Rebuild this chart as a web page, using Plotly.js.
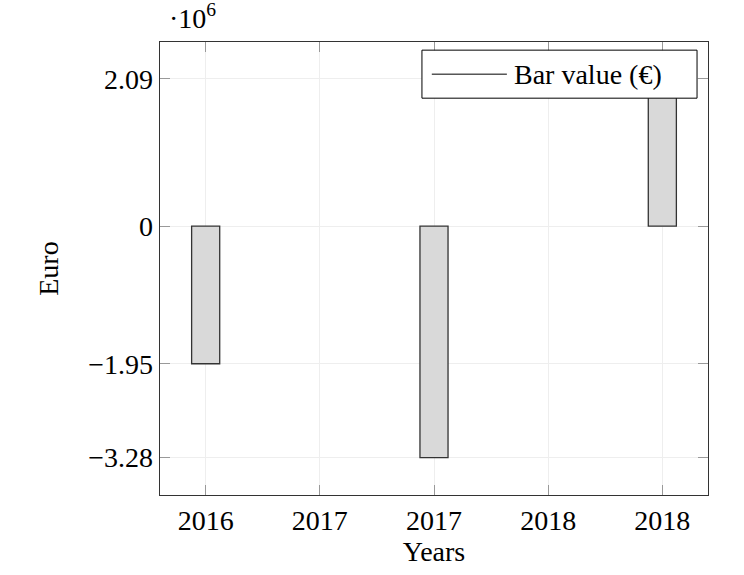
<!DOCTYPE html>
<html>
<head>
<meta charset="utf-8">
<script src="https://cdn.plot.ly/plotly-3.0.1.min.js"></script>
<style>
  html, body { margin: 0; padding: 0; background: #fff; }
  #plot { width: 744px; height: 575px; }
</style>
</head>
<body>
<div id="plot"></div>
<script>
// bar positions (years) and values in euro
const years = [2016, 2017, 2018];
const barValues = [-1.95e6, -3.28e6, 2.09e6];
const seriesName = 'Bar value (\u20ac)';

// x ticks as pgfplots drew them (rounded to whole years)
const xTickVals = [2016, 2016.5, 2017, 2017.5, 2018];
const xTickText = ['2016', '2017', '2017', '2018', '2018'];

// y ticks sit on the bar values, shown in units of 10^6
const yTickVals = [2.09e6, 0, -1.95e6, -3.28e6];
const yTickText = ['2.09', '0', '\u22121.95', '\u22123.28'];

const font = 'Liberation Serif, Times New Roman, serif';
const fs = 28;

const traces = [
  {
    x: years,
    y: barValues,
    type: 'bar',
    width: 0.123,
    name: seriesName,
    marker: {
      color: '#d9d9d9',
      line: { color: '#333', width: 1.3 }
    },
    showlegend: false,
    hoverinfo: 'x+y'
  }
];

function axisStyle() {
  return {
    showgrid: true,
    gridcolor: '#eeeeee',
    gridwidth: 1,
    zeroline: false,
    showline: true,
    linecolor: '#333',
    linewidth: 1.3,
    mirror: 'ticks',
    ticks: 'inside',
    ticklen: 10,
    tickcolor: '#999',
    tickwidth: 1
  };
}

const layout = {
  width: 744,
  height: 575,
  margin: { l: 160, r: 36, t: 42, b: 80 },
  paper_bgcolor: '#fff',
  plot_bgcolor: '#fff',
  font: { family: font, size: fs, color: '#000' },
  showlegend: false,
  xaxis: Object.assign(axisStyle(), {
    title: { text: 'Years', font: { size: fs }, standoff: 6 },
    range: [2015.8, 2018.2],
    tickvals: xTickVals,
    ticktext: xTickText
  }),
  yaxis: Object.assign(axisStyle(), {
    title: { text: 'Euro', font: { size: fs }, standoff: 21 },
    range: [-3.81e6, 2.61e6],
    tickvals: yTickVals,
    ticktext: yTickText
  }),
  // pgfplots-style legend: box with a long line sample
  shapes: [
    {
      type: 'rect', xref: 'paper', yref: 'paper',
      x0: 0.478, x1: 0.980, y0: 0.876, y1: 0.982,
      fillcolor: '#fff', line: { color: '#000', width: 1 }, layer: 'above'
    },
    {
      type: 'line', xref: 'paper', yref: 'paper',
      x0: 0.496, x1: 0.633, y0: 0.929, y1: 0.929,
      line: { color: '#000', width: 1 }, layer: 'above'
    }
  ],
  annotations: [
    {
      xref: 'paper', yref: 'paper',
      x: 0.642, y: 0.929,
      xanchor: 'left', yanchor: 'middle',
      showarrow: false,
      text: seriesName,
      font: { family: font, size: fs }
    },
    {
      xref: 'paper', yref: 'paper',
      x: 0.013, y: 1,
      xanchor: 'left', yanchor: 'bottom',
      yshift: 6,
      showarrow: false,
      text: '\u00b710<sup>6</sup>',
      font: { family: font, size: fs }
    }
  ]
};

Plotly.newPlot('plot', traces, layout, { displayModeBar: false, staticPlot: true });
</script>
</body>
</html>
